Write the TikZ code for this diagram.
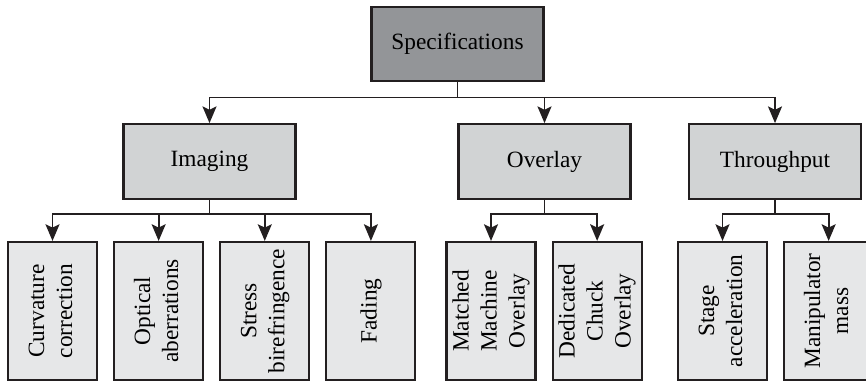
\documentclass[tikz,border=0pt]{standalone}
\usepackage{fontspec}
\setmainfont{Liberation Serif}
\usepackage{graphicx}
\usetikzlibrary{arrows.meta,positioning}
\definecolor{specdark}{HTML}{939598}
\definecolor{specmid}{HTML}{D1D3D4}
\definecolor{speclight}{HTML}{E6E7E8}
\definecolor{specline}{HTML}{231F20}
\newcommand{\sidetext}[1]{\rotatebox{90}{\begin{tabular}{@{}c@{}}#1\end{tabular}}}
\tikzset{
  topbox/.style={
    draw=specline,
    line width=1.6pt,
    fill=specdark,
    minimum width=129pt,
    minimum height=56pt,
    align=center,
    font=\fontsize{17.5}{21}\selectfont
  },
  midbox/.style={
    topbox,
    fill=specmid
  },
  leafbox/.style={
    draw=specline,
    line width=1.6pt,
    fill=speclight,
    minimum width=66.75pt,
    minimum height=103.5pt,
    inner sep=0pt,
    font=\fontsize{17.5}{21}\selectfont
  },
  arrow/.style={-{Stealth[length=12.5pt,width=10.5pt,inset=2.5pt]},line width=1.3pt,draw=specline},
  bus/.style={line width=1.3pt,draw=specline}
}

\begin{document}
\begin{tikzpicture}[x=0.75pt,y=-0.75pt,node distance=11.25pt]
  \useasboundingbox (0,0) rectangle (866,382);

  \node[topbox] (spec) at (457.5,44) {Specifications};
  \node[midbox] (imaging) at (209.5,161.5) {Imaging};
  \node[midbox] (overlay) at (544.5,161.5) {Overlay};
  \node[midbox] (throughput) at (775,161.5) {Throughput};

  \node[leafbox] (curv) at (52.5,311) {\sidetext{Curvature\\correction}};
  \node[leafbox, right=of curv] (optic) {\sidetext{Optical\\aberrations}};
  \node[leafbox, right=of optic] (stress) {\sidetext{Stress\\birefringence}};
  \node[leafbox, right=of stress] (fading) {\sidetext{Fading}};
  \node[leafbox] (matched) at (491,311) {\sidetext{Matched\\Machine\\Overlay}};
  \node[leafbox, right=of matched] (dedicated) {\sidetext{Dedicated\\Chuck\\Overlay}};
  \node[leafbox] (stage) at (722.5,311) {\sidetext{Stage\\acceleration}};
  \node[leafbox, right=of stage] (manip) {\sidetext{Manipulator\\mass}};

  \coordinate (topbus) at ([yshift=-11.25pt]spec.south);
  \coordinate (imgbus) at ([yshift=-10.5pt]imaging.south);
  \coordinate (ovlbus) at ([yshift=-10.5pt]overlay.south);
  \coordinate (thrbus) at ([yshift=-10.5pt]throughput.south);

  \draw[bus] (spec.south) -- (topbus);
  \draw[arrow] (topbus) -| (imaging.north);
  \draw[arrow] (topbus) -| (overlay.north);
  \draw[arrow] (topbus) -| (throughput.north);

  \draw[bus] (imaging.south) -- (imgbus);
  \foreach \leaf in {curv,optic,stress,fading}
    \draw[arrow] (imgbus) -| (\leaf.north);

  \draw[bus] (overlay.south) -- (ovlbus);
  \foreach \leaf in {matched,dedicated}
    \draw[arrow] (ovlbus) -| (\leaf.north);

  \draw[bus] (throughput.south) -- (thrbus);
  \foreach \leaf in {stage,manip}
    \draw[arrow] (thrbus) -| (\leaf.north);
\end{tikzpicture}
\end{document}
